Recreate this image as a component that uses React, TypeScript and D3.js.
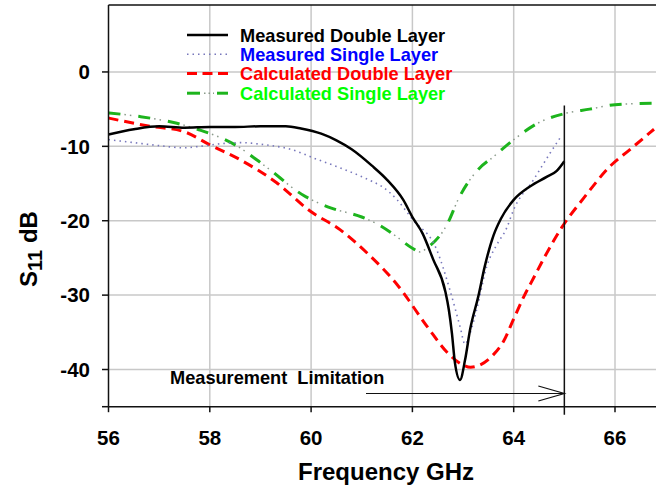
import React from "react";
import * as d3 from "d3";

// Frequency (GHz) / S11 (dB) samples for each trace
const measDoubleFreq = [56.0, 56.5, 57.0, 57.5, 58.0, 58.5, 59.0, 59.5, 59.8, 60.2, 60.5, 60.8, 61.2, 61.5, 61.82, 62.0, 62.2, 62.41, 62.65, 62.72, 62.78, 62.84, 62.94, 63.04, 63.14, 63.3, 63.43, 63.6, 63.75, 64.0, 64.32, 64.65, 64.85, 65.0];
const measDoubleDb = [-8.4, -7.7, -7.3, -7.5, -7.4, -7.4, -7.3, -7.3, -7.6, -8.3, -9.2, -10.4, -12.6, -14.5, -17.2, -19.5, -21.7, -25.2, -29.5, -32.0, -35.1, -39.1, -41.4, -38.7, -34.6, -30.2, -26.1, -22.0, -19.7, -17.2, -15.4, -14.1, -13.3, -12.0];

const measSingleFreq = [56.0, 56.5, 57.0, 57.5, 57.8, 58.3, 58.6, 59.1, 59.6, 60.1, 60.5, 60.8, 61.2, 61.4, 61.7, 62.0, 62.48, 62.74, 62.94, 63.04, 63.14, 63.27, 63.47, 63.66, 63.86, 64.0, 64.39, 64.72, 64.95];
const measSingleDb = [-9.1, -9.5, -9.9, -10.2, -10.0, -9.6, -9.5, -9.8, -10.4, -11.7, -12.7, -13.5, -14.7, -15.4, -17.2, -19.8, -23.9, -29.3, -34.2, -36.6, -35.1, -31.9, -26.1, -23.3, -21.0, -18.5, -14.5, -10.9, -8.5];

const calcDoubleFreq = [56.0, 56.82, 57.48, 58.0, 58.6, 59.32, 59.98, 60.57, 61.1, 61.7, 62.3, 62.7, 63.0, 63.15, 63.3, 63.6, 63.8, 64.0, 64.2, 64.4, 64.6, 64.95, 65.4, 65.9, 66.3, 66.77];
const calcDoubleDb = [-6.2, -7.3, -8.0, -9.8, -11.8, -14.9, -18.7, -21.2, -24.3, -28.6, -34.3, -37.8, -39.4, -39.7, -39.5, -38.0, -36.2, -33.2, -30.2, -27.6, -25.0, -20.9, -16.8, -12.7, -10.4, -7.7];

const calcSingleFreq = [56.0, 56.62, 57.35, 57.8, 58.5, 59.1, 59.9, 60.4, 61.0, 61.4, 61.7, 62.0, 62.15, 62.3, 62.7, 62.9, 63.3, 63.6, 64.0, 64.5, 65.0, 65.5, 66.0, 66.77];
const calcSingleDb = [-5.5, -6.0, -6.9, -7.8, -9.8, -12.7, -16.8, -18.3, -19.5, -20.8, -22.2, -23.7, -24.2, -23.6, -20.3, -17.2, -13.1, -11.4, -9.1, -6.8, -5.6, -5.0, -4.4, -4.2];

const xTicks = [56, 58, 60, 62, 64, 66];
const yTicks = [0, -10, -20, -30, -40];

const legendLabels = [
  "Measured Double Layer",
  "Measured Single Layer",
  "Calculated Double Layer",
  "Calculated Single Layer",
];

const limitFreq = 65;

const W = 656;
const H = 492;
const FONT = "'Liberation Sans', Arial, Helvetica, sans-serif";

export default function App() {
  const x = d3.scaleLinear().domain([56, 66]).range([108.5, 615]);
  const y = d3.scaleLinear().domain([-45, 9]).range([406.7, 5]);
  const plotLeft = x(56);
  const plotRight = W + 2;
  const plotTop = y(9);
  const plotBottom = y(-45);

  const line = d3
    .line<[number, number]>()
    .x((d) => x(d[0]))
    .y((d) => y(d[1]))
    .curve(d3.curveMonotoneX);

  const zip = (f: number[], v: number[]) => f.map((fv, i) => [fv, v[i]] as [number, number]);

  const pMeasDouble = line(zip(measDoubleFreq, measDoubleDb)) || "";
  const pMeasSingle = line(zip(measSingleFreq, measSingleDb)) || "";
  const pCalcDouble = line(zip(calcDoubleFreq, calcDoubleDb)) || "";
  const pCalcSingle = line(zip(calcSingleFreq, calcSingleDb)) || "";

  const gridX = d3.range(58, 68, 2);
  const limX = x(limitFreq);

  const legendRows = [35, 54.3, 73.6, 93.2];
  const legendColors = ["#000000", "#0000ff", "#ff0000", "#00ff00"];
  const lx0 = 187;
  const lx1 = 228;

  return (
    <svg
      width={W}
      height={H}
      style={{ position: "fixed", left: 0, top: 0, background: "#fff" }}
      fontFamily={FONT}
    >
      <defs>
        <clipPath id="plotArea">
          <rect x={plotLeft} y={plotTop} width={plotRight - plotLeft} height={plotBottom - plotTop} />
        </clipPath>
      </defs>

      {/* grid */}
      <g stroke="#c8c8c8" strokeWidth={1.5}>
        {gridX.map((g) => (
          <line key={"gx" + g} x1={x(g)} x2={x(g)} y1={plotTop} y2={plotBottom} />
        ))}
        {yTicks.map((t) => (
          <line key={"gy" + t} x1={plotLeft} x2={plotRight} y1={y(t)} y2={y(t)} />
        ))}
      </g>

      {/* traces */}
      <g clipPath="url(#plotArea)" fill="none">
        <path d={pCalcDouble} stroke="#ff0000" strokeWidth={3} strokeDasharray="10,6" />
        <path d={pCalcSingle} stroke="#1db41d" strokeWidth={3} strokeDasharray="12,18" />
        <path d={pCalcSingle} stroke="#8a9a8a" strokeWidth={1.5} strokeDasharray="0,16,1.5,4,1.5,7" />
        <path d={pMeasSingle} stroke="#7777bb" strokeWidth={1.6} strokeDasharray="1.5,4" />
        <path d={pMeasDouble} stroke="#000" strokeWidth={2.5} />
      </g>

      {/* frame / axes */}
      <g stroke="#111" strokeWidth={1.5}>
        <line x1={plotLeft} x2={plotRight} y1={plotTop} y2={plotTop} />
        <line x1={plotLeft} x2={plotLeft} y1={plotTop} y2={plotBottom} />
        <line x1={plotLeft} x2={plotRight} y1={plotBottom} y2={plotBottom} />
        {xTicks.map((t) => (
          <line key={"xt" + t} x1={x(t)} x2={x(t)} y1={plotBottom} y2={plotBottom + 5.5} />
        ))}
        {[...yTicks, -45].map((t) => (
          <line key={"yt" + t} x1={plotLeft - 6.5} x2={plotLeft} y1={y(t)} y2={y(t)} />
        ))}
      </g>

      {/* tick labels */}
      <g fontWeight="bold" fontSize={20.5} fill="#000">
        {xTicks.map((t) => (
          <text key={"xl" + t} x={x(t)} y={445} textAnchor="middle">
            {t}
          </text>
        ))}
        {yTicks.map((t) => (
          <text key={"yl" + t} x={90} y={y(t) + 7.3} textAnchor="end">
            {t}
          </text>
        ))}
      </g>

      {/* axis titles */}
      <text x={386} y={480} textAnchor="middle" fontWeight="bold" fontSize={24} fill="#000">
        Frequency GHz
      </text>
      <text
        transform={`translate(37,249) rotate(-90)`}
        textAnchor="middle"
        fontWeight="bold"
        fontSize={24}
        fill="#000"
      >
        S<tspan fontSize={20} dy={5}>11</tspan>
        <tspan dy={-5}> dB</tspan>
      </text>

      {/* measurement limit marker */}
      <g stroke="#111" strokeWidth={1.5} fill="none">
        <line x1={limX} x2={limX} y1={y(-4.5)} y2={plotBottom + 8} />
        <line x1={366} x2={limX} y1={393.5} y2={393.5} strokeWidth={1.2} />
        <polyline points={`${limX - 26},386 ${limX},393.5 ${limX - 26},401`} strokeWidth={1.2} />
      </g>
      <text x={170} y={384} fontWeight="bold" fontSize={18.2} fill="#000" xmlSpace="preserve">
        Measurement  Limitation
      </text>

      {/* legend */}
      <g>
        <line x1={lx0} x2={lx1} y1={legendRows[0]} y2={legendRows[0]} stroke="#000" strokeWidth={2.5} />
        <line x1={lx0} x2={lx1} y1={legendRows[1]} y2={legendRows[1]} stroke="#7777bb" strokeWidth={1.6} strokeDasharray="1.5,4" />
        <line x1={lx0} x2={lx1} y1={legendRows[2]} y2={legendRows[2]} stroke="#ff0000" strokeWidth={3} strokeDasharray="10,5.5" />
        <line x1={lx0} x2={lx0 + 13} y1={legendRows[3]} y2={legendRows[3]} stroke="#1db41d" strokeWidth={3} />
        <line x1={lx1 - 11} x2={lx1} y1={legendRows[3]} y2={legendRows[3]} stroke="#1db41d" strokeWidth={3} />
        <line x1={lx0 + 17} x2={lx1 - 14} y1={legendRows[3]} y2={legendRows[3]} stroke="#8a9a8a" strokeWidth={1.5} strokeDasharray="1.5,3" />
        {legendLabels.map((lab, i) => (
          <text
            key={lab}
            x={240}
            y={legendRows[i] + 6.5}
            fontWeight="bold"
            fontSize={18.2}
            fill={legendColors[i]}
          >
            {lab}
          </text>
        ))}
      </g>
    </svg>
  );
}
